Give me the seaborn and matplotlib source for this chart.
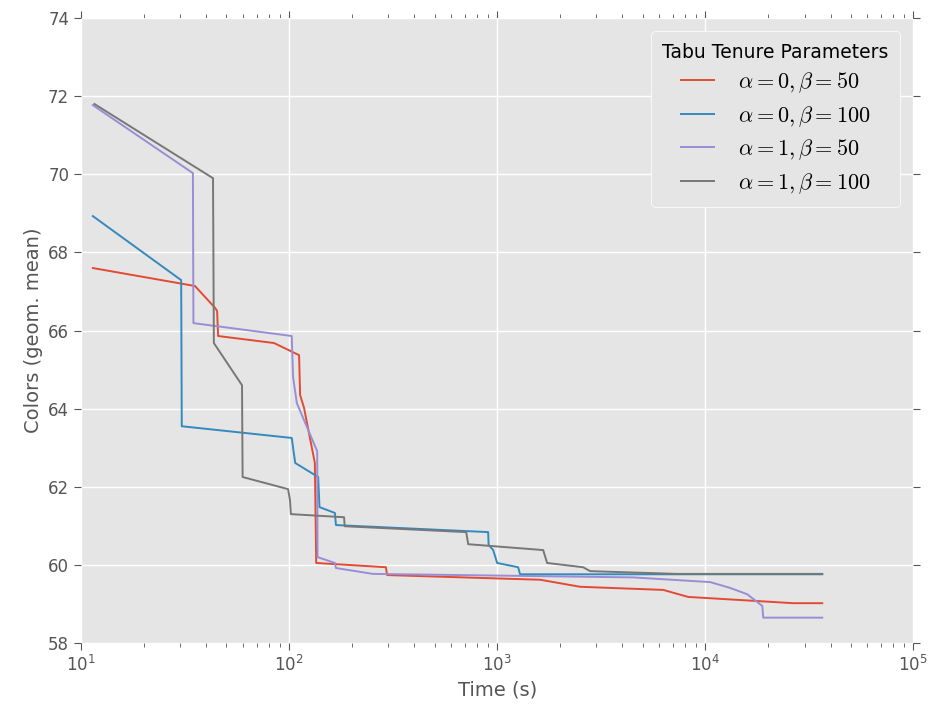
import matplotlib
matplotlib.use('Agg')
import matplotlib.pyplot as plt
import seaborn as sns
import pandas as pd

# series (time in s, colors geom. mean)
red_t = [11.4, 35.3, 44.1, 45.1, 45.6, 84.7, 111.7, 113, 118, 133, 135, 292, 296, 1610, 2506, 6281, 8280, 26490, 36500]
red_c = [67.60, 67.14, 66.58, 66.50, 65.86, 65.68, 65.37, 64.35, 64.02, 62.61, 60.05, 59.94, 59.74, 59.62, 59.44, 59.36, 59.18, 59.02, 59.02]

blue_t = [11.4, 30.3, 30.5, 103, 107, 138, 140, 166, 168, 905, 910, 957, 1000, 1262, 1288, 36500]
blue_c = [68.93, 67.29, 63.55, 63.25, 62.61, 62.25, 61.48, 61.33, 61.02, 60.84, 60.51, 60.38, 60.05, 59.94, 59.76, 59.76]

purple_t = [11.4, 34.5, 34.7, 103, 104.5, 109, 136.5, 137, 166, 168, 253, 4500, 10570, 13180, 15900, 18800, 19000, 36500]
purple_c = [71.77, 70.03, 66.19, 65.86, 64.81, 64.14, 62.91, 60.20, 60.05, 59.92, 59.77, 59.68, 59.56, 59.41, 59.25, 58.95, 58.65, 58.65]

gray_t = [11.6, 43.1, 43.5, 59.4, 59.8, 98.9, 101, 102, 183.8, 185, 710, 726, 1664, 1738, 2590, 2800, 7330, 36500]
gray_c = [71.80, 69.90, 65.68, 64.60, 62.25, 61.94, 61.66, 61.30, 61.22, 60.99, 60.84, 60.53, 60.38, 60.05, 59.94, 59.84, 59.77, 59.77]

labels = [r'$\alpha = 0, \beta = 50$', r'$\alpha = 0, \beta = 100$',
          r'$\alpha = 1, \beta = 50$', r'$\alpha = 1, \beta = 100$']
colors = ['#E24A33', '#348ABD', '#988ED5', '#777777']

frames = []
for lab, t, c in zip(labels, [red_t, blue_t, purple_t, gray_t], [red_c, blue_c, purple_c, gray_c]):
    frames.append(pd.DataFrame({'time': t, 'colors': c, 'params': lab}))
df = pd.concat(frames, ignore_index=True)

plt.style.use('ggplot')
plt.rcParams['mathtext.fontset'] = 'cm'
plt.rcParams['font.family'] = ['DejaVu Sans']

fig = plt.figure(figsize=(9.31, 7.11), dpi=100)
ax = fig.add_axes([0.087, 0.0956, 0.894, 0.879])
ax.set_facecolor('#E5E5E5')

sns.lineplot(data=df, x='time', y='colors', hue='params', palette=colors,
             estimator=None, sort=False, linewidth=1.4, ax=ax)

ax.set_xscale('log')
ax.set_xlim(10, 1e5)
ax.set_ylim(58, 74)
ax.set_yticks(range(58, 75, 2))
ax.grid(True, which='major', color='white', linewidth=1.0)
ax.grid(False, which='minor')
ax.set_axisbelow(True)

ax.tick_params(which='both', direction='out', colors='#555555', labelsize=12,
               top=True, right=True, labeltop=False, labelright=False)
ax.tick_params(which='major', length=5)
ax.tick_params(which='minor', length=3)
for s in ax.spines.values():
    s.set_visible(False)

ax.set_xlabel('Time (s)', fontsize=14, color='#555555')
ax.set_ylabel('Colors (geom. mean)', fontsize=14, color='#555555')

leg = ax.legend(title='Tabu Tenure Parameters', loc='upper right', fontsize=16,
                title_fontsize=13.5, frameon=True, handlelength=1.5, borderpad=0.5,
                labelspacing=0.4, handletextpad=1.1, borderaxespad=0.6)
leg.get_frame().set_facecolor('#E5E5E5')
leg.get_frame().set_edgecolor('white')
leg.get_frame().set_alpha(1)

fig.savefig('out.png', dpi=100)
